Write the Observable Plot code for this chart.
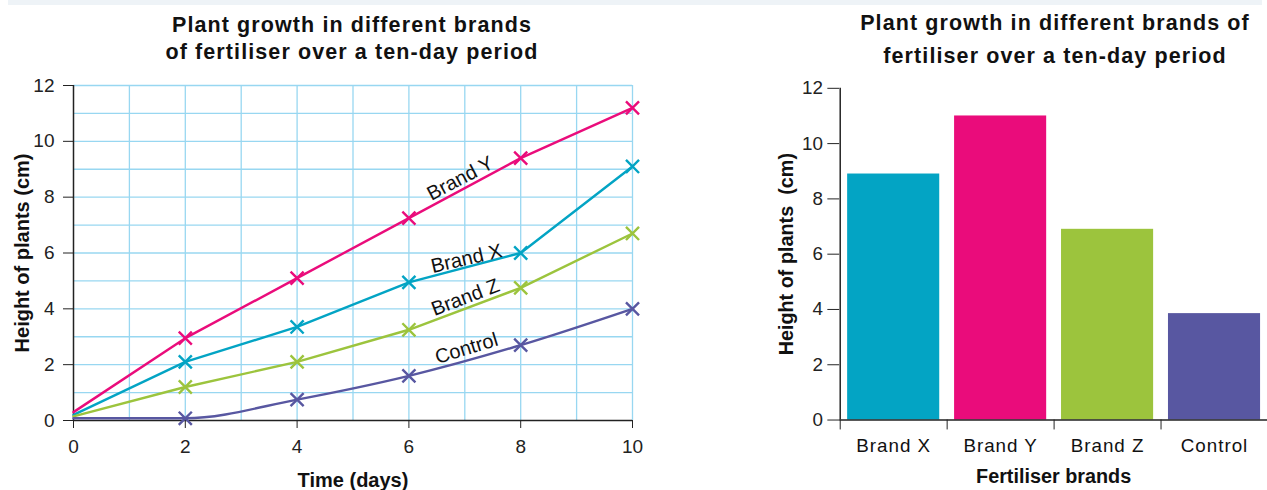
<!DOCTYPE html>
<html>
<head>
<meta charset="utf-8">
<script src="https://cdn.jsdelivr.net/npm/d3@7"></script>
<script src="https://cdn.jsdelivr.net/npm/@observablehq/plot@0.6"></script>
<style>
  html, body { margin: 0; padding: 0; background: #fff; }
  body { width: 1267px; height: 490px; position: relative; overflow: hidden;
         font-family: "Liberation Sans", Arial, Helvetica, sans-serif; color: #111; }
  #band { position: absolute; left: 8px; top: 0; width: 1254px; height: 5px; background: #eef3f7; }
  .title { position: absolute; font-weight: bold; font-size: 21.5px; letter-spacing: 1.1px;
           text-align: center; white-space: nowrap; width: 600px; color: #111; }
  #t1 { left: 52px; top: 12px; line-height: 27px; }
  #t2 { left: 755px; top: 7px; line-height: 33px; }
  #c1 { position: absolute; left: 0; top: 70px; }
  #c2 { position: absolute; left: 760px; top: 70px; }
  g[aria-label="series labels"] text { letter-spacing: 1px; }
  g[aria-label="axis title"] text { letter-spacing: 1px; white-space: pre; }
  #c2 g[aria-label="x-axis tick label"] text { letter-spacing: 1px; font-size: 19px; }
</style>
</head>
<body>
<div id="band"></div>
<div class="title" id="t1">Plant growth in different brands<br>of fertiliser over a ten-day period</div>
<div class="title" id="t2">Plant growth in different brands of<br>fertiliser over a ten-day period</div>
<div id="c1"></div>
<div id="c2"></div>
<script>
// ---- Data ----
const days = [0, 2, 4, 6, 8, 10];
const brandXHeights = [0.2, 2.1, 3.35, 4.95, 6.0, 9.1];
const brandYHeights = [0.3, 2.95, 5.1, 7.25, 9.4, 11.2];
const brandZHeights = [0.15, 1.2, 2.1, 3.25, 4.75, 6.7];
const controlHeights = [0.08, 0.08, 0.75, 1.6, 2.7, 4.0];
const seriesNames = ["Brand X", "Brand Y", "Brand Z", "Control"];

const barCategories = ["Brand X", "Brand Y", "Brand Z", "Control"];
const finalHeights = [8.9, 11.0, 6.9, 3.85];

const dayTicks = [0, 2, 4, 6, 8, 10];
const heightTicks = [0, 2, 4, 6, 8, 10, 12];
const dayGrid = [1, 2, 3, 4, 5, 6, 7, 8, 9, 10];
const heightGrid = [1, 2, 3, 4, 5, 6, 7, 8, 9, 10, 11, 12];

// on-line labels (annotations)
const labelNames = ["Brand Y", "Brand X", "Brand Z", "Control"];
const labelDays = [6.92, 7.03, 7.01, 7.03];
const labelHeights = [8.67, 5.8, 4.41, 2.58];
const labelAngles = [-28, -13, -21, -17];

// ---- Styles ----
const seriesColors = ["#03a4c4", "#ea0c7b", "#9cc43d", "#5857a1"];
const gridColor = "#98d7f1";
const axisColor = "#222";
const fontFamily = '"Liberation Sans", Arial, Helvetica, sans-serif';

// ---- Tables ----
const seriesHeights = [brandXHeights, brandYHeights, brandZHeights, controlHeights];
const growth = seriesNames.flatMap((s, i) => days.map((d, j) => ({series: s, day: d, height: seriesHeights[i][j]})));
const labels = labelNames.map((n, i) => ({name: n, day: labelDays[i], height: labelHeights[i], angle: labelAngles[i]}));
const bars = barCategories.map((b, i) => ({brand: b, height: finalHeights[i]}));

// ---- Left: line chart ----
const lineMarks = seriesNames.map(s => Plot.line(growth.filter(d => d.series === s), {
  x: "day", y: "height", stroke: "series", strokeWidth: 2.4,
  curve: s === "Control" ? "monotone-x" : "linear"
}));

const left = Plot.plot({
  width: 650, height: 420,
  marginLeft: 73, marginRight: 18, marginTop: 15, marginBottom: 70,
  x: {domain: [0, 10]},
  y: {domain: [0, 12]},
  color: {domain: seriesNames, range: seriesColors},
  style: {fontFamily, fontSize: "19px", color: axisColor, background: "transparent", overflow: "visible"},
  marks: [
    Plot.ruleX(dayGrid, {stroke: gridColor, strokeWidth: 1.3}),
    Plot.ruleY(heightGrid, {stroke: gridColor, strokeWidth: 1.3}),
    Plot.axisX({ticks: dayTicks, tickSize: 8, tickPadding: 11, label: null}),
    Plot.axisY({ticks: heightTicks, tickSize: 10, tickPadding: 9, label: null}),
    Plot.ruleX([0], {stroke: axisColor, strokeWidth: 1.5}),
    Plot.ruleY([0], {stroke: axisColor, strokeWidth: 1.5}),
    ...lineMarks,
    Plot.dot(growth.filter(d => d.day > 0), {x: "day", y: "height", stroke: "series", symbol: "times", r: 6, strokeWidth: 2.4}),
    Plot.text(labels, {x: "day", y: "height", text: "name", rotate: "angle", fontSize: 20, fill: "#111", ariaLabel: "series labels"}),
    Plot.text(["Time (days)"], {text: d => d, frameAnchor: "bottom", textAnchor: "middle", lineAnchor: "middle", dy: 60, fontSize: 20, fontWeight: "bold", fill: "#111", ariaLabel: "axis title"}),
    Plot.text(["Height of plants (cm)"], {text: d => d, frameAnchor: "left", textAnchor: "middle", lineAnchor: "middle", dx: -51, rotate: -90, fontSize: 20, fontWeight: "bold", fill: "#111", ariaLabel: "axis title"})
  ]
});
document.getElementById("c1").append(left);

// ---- Right: bar chart ----
const rightWidth = 512, rightMarginLeft = 80, rightMarginRight = 0;
const halfStep = (rightWidth - rightMarginLeft - rightMarginRight) / barCategories.length / 2;

const right = Plot.plot({
  width: rightWidth, height: 420,
  marginLeft: rightMarginLeft, marginRight: rightMarginRight, marginTop: 18, marginBottom: 67,
  x: {domain: barCategories, paddingInner: 0.14, paddingOuter: 0.07},
  y: {domain: [0, 12]},
  color: {domain: barCategories, range: seriesColors},
  style: {fontFamily, fontSize: "19px", color: axisColor, background: "transparent", overflow: "visible"},
  marks: [
    Plot.barY(bars, {x: "brand", y: "height", fill: "brand"}),
    Plot.axisY({ticks: heightTicks, tickSize: 12, tickPadding: 5, label: null}),
    Plot.axisX({tickSize: 10, tickFormat: () => "", dx: -halfStep, label: null}),
    Plot.axisX({tickSize: 0, tickPadding: 19, label: null, fill: "#111"}),
    Plot.ruleX([barCategories[0]], {dx: -halfStep, stroke: axisColor, strokeWidth: 1.5}),
    Plot.ruleY([0], {stroke: axisColor, strokeWidth: 1.5}),
    Plot.text(["Fertiliser brands"], {text: d => d, frameAnchor: "bottom", textAnchor: "middle", lineAnchor: "middle", dy: 57, fontSize: 20, fontWeight: "bold", fill: "#111", ariaLabel: "axis title"}),
    Plot.text(["Height of plants  (cm)"], {text: d => d, frameAnchor: "left", textAnchor: "middle", lineAnchor: "middle", dx: -54, rotate: -90, fontSize: 20, fontWeight: "bold", fill: "#111", ariaLabel: "axis title"})
  ]
});
document.getElementById("c2").append(right);
</script>
</body>
</html>
